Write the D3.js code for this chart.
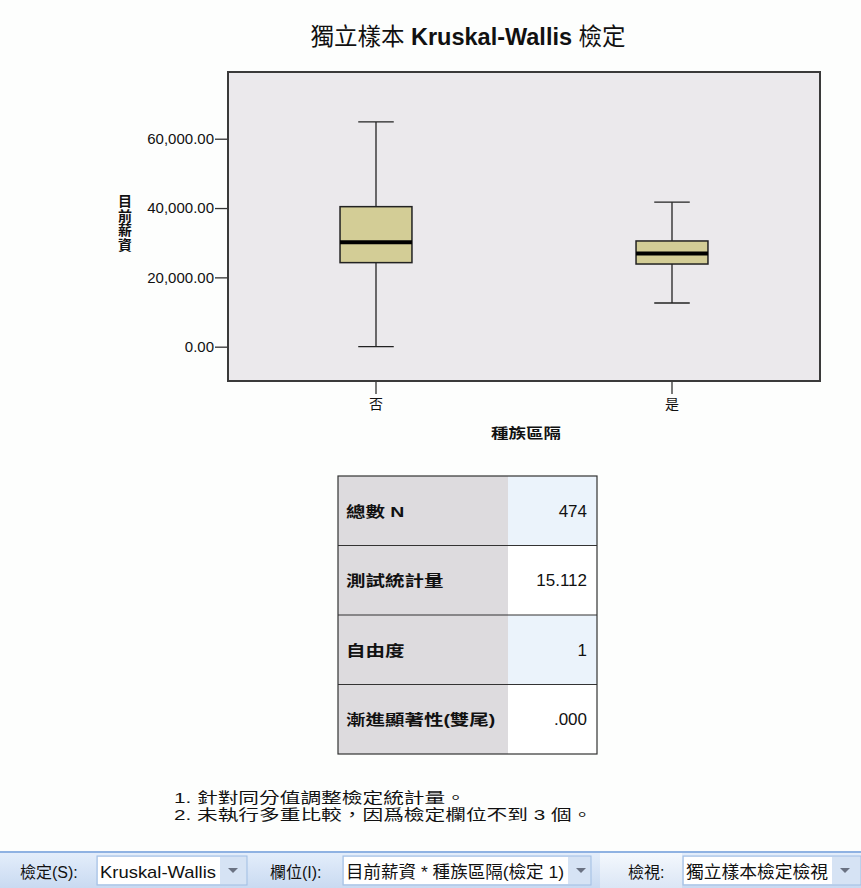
<!DOCTYPE html>
<html>
<head>
<meta charset="utf-8">
<script src="https://cdn.jsdelivr.net/npm/d3@7"></script>
<style>
  body { margin:0; background:#fdfefd; }
  svg { display:block; }
  text { font-family: "Liberation Sans", "Noto Sans CJK TC", sans-serif; fill:#111; }
</style>
</head>
<body>
<div id="chart"></div>
<script>
// data
var groups = ["否", "是"];
var whiskerLow = [0, 12600];
var q1 = [24250, 23850];
var median = [30150, 26850];
var q3 = [40400, 30500];
var whiskerHigh = [64850, 41700];
var yTicks = [0, 20000, 40000, 60000];

var statLabels = ["總數 N", "測試統計量", "自由度", "漸進顯著性(雙尾)"];
var statValues = ["474", "15.112", "1", ".000"];
var notes = ["1.  針對同分值調整檢定統計量。", "2.  未執行多重比較，因爲檢定欄位不到 3 個。"];

var W = 861, H = 888;
var svg = d3.select("#chart").append("svg").attr("width", W).attr("height", H);

// wide text: old windows font is wider than tall
function wideText(parent, x, y, sx) {
  return parent.append("g").attr("transform", "translate(" + x + "," + y + ") scale(" + sx + ",1)")
    .append("text");
}

// title
var title = svg.append("text").attr("x", 468).attr("y", 45).attr("text-anchor", "middle")
  .style("font-size", "23.5px");
title.append("tspan").text("獨立樣本 ");
title.append("tspan").style("font-weight", "bold").text("Kruskal-Wallis");
title.append("tspan").text(" 檢定");

var plot = {left:228, top:72, right:820, bottom:381};

var y = d3.scaleLinear().domain([-9900, 79250]).range([plot.bottom, plot.top]);
var x = d3.scaleBand().domain(groups).range([plot.left, plot.right]);

svg.append("rect").attr("x", plot.left).attr("y", plot.top)
  .attr("width", plot.right - plot.left).attr("height", plot.bottom - plot.top)
  .attr("fill", "#ebe9ec").attr("stroke", "#3a3a3a").attr("stroke-width", 2);

// y axis
var yAxis = d3.axisLeft(y).tickValues(yTicks).tickSize(12).tickPadding(1)
  .tickFormat(function(d){ return d3.format(",.2f")(d); });
var gy = svg.append("g").attr("transform", "translate(" + (plot.left - 1) + ",0)").call(yAxis);
gy.select(".domain").remove();
gy.selectAll("line").attr("stroke", "#333").attr("stroke-width", 1.3);
gy.selectAll("text").style("font-size", "15px").attr("fill", "#222");

// x axis
var xAxis = d3.axisBottom(x).tickSize(12).tickPadding(5);
var gx = svg.append("g").attr("transform", "translate(0," + (plot.bottom + 1) + ")").call(xAxis);
gx.select(".domain").remove();
gx.selectAll("line").attr("stroke", "#333").attr("stroke-width", 1.3);
gx.selectAll("text").style("font-size", "14px").attr("fill", "#222");

// axis titles
wideText(svg, 526, 438, 1.25).attr("text-anchor", "middle")
  .style("font-size", "14px").style("font-weight", "bold").text("種族區隔");
var yt = svg.append("text").attr("text-anchor", "middle").style("font-size", "14px").style("font-weight", "bold");
"目前薪資".split("").forEach(function(c, i){
  yt.append("tspan").attr("x", 125).attr("y", 206 + i * 14.5).text(c);
});

// boxes
var boxW = x.bandwidth() * 0.243, capW = x.bandwidth() * 0.12;
var bx = svg.append("g").selectAll("g").data(groups).enter().append("g");
bx.append("line")
  .attr("x1", function(d){ return x(d) + x.bandwidth()/2; })
  .attr("x2", function(d){ return x(d) + x.bandwidth()/2; })
  .attr("y1", function(d, i){ return y(whiskerLow[i]); })
  .attr("y2", function(d, i){ return y(whiskerHigh[i]); })
  .attr("stroke", "#222").attr("stroke-width", 1.3);
[whiskerLow, whiskerHigh].forEach(function(arr){
  bx.append("line")
    .attr("x1", function(d){ return x(d) + x.bandwidth()/2 - capW/2; })
    .attr("x2", function(d){ return x(d) + x.bandwidth()/2 + capW/2; })
    .attr("y1", function(d, i){ return y(arr[i]); })
    .attr("y2", function(d, i){ return y(arr[i]); })
    .attr("stroke", "#222").attr("stroke-width", 1.3);
});
bx.append("rect")
  .attr("x", function(d){ return x(d) + x.bandwidth()/2 - boxW/2; })
  .attr("width", boxW)
  .attr("y", function(d, i){ return y(q3[i]); })
  .attr("height", function(d, i){ return y(q1[i]) - y(q3[i]); })
  .attr("fill", "#d3cd96").attr("stroke", "#222").attr("stroke-width", 1.5);
bx.append("line")
  .attr("x1", function(d){ return x(d) + x.bandwidth()/2 - boxW/2; })
  .attr("x2", function(d){ return x(d) + x.bandwidth()/2 + boxW/2; })
  .attr("y1", function(d, i){ return y(median[i]); })
  .attr("y2", function(d, i){ return y(median[i]); })
  .attr("stroke", "#000").attr("stroke-width", 4);

// stats table
var tbl = {left:338, split:508, right:597, top:476, rowH:69.5};
var rows = svg.append("g").selectAll("g").data(statLabels).enter().append("g")
  .attr("transform", function(d, i){ return "translate(0," + (tbl.top + i * tbl.rowH) + ")"; });
rows.append("rect").attr("x", tbl.left).attr("width", tbl.split - tbl.left).attr("height", tbl.rowH)
  .attr("fill", "#dddbde");
rows.append("rect").attr("x", tbl.split).attr("width", tbl.right - tbl.split).attr("height", tbl.rowH)
  .attr("fill", function(d, i){ return i % 2 == 0 ? "#ebf3fb" : "#ffffff"; });
rows.each(function(d){
  wideText(d3.select(this), tbl.left + 8, tbl.rowH/2 + 6, 1.3)
    .style("font-size", "15px").style("font-weight", "bold").text(d);
});
rows.append("text").attr("x", tbl.right - 10).attr("y", tbl.rowH/2 + 6).attr("text-anchor", "end")
  .style("font-size", "17px").attr("fill", "#222").text(function(d, i){ return statValues[i]; });
rows.filter(function(d, i){ return i > 0; }).append("line")
  .attr("x1", tbl.left).attr("x2", tbl.right).attr("y1", 0).attr("y2", 0)
  .attr("stroke", "#333").attr("stroke-width", 1.2);
svg.append("rect").attr("x", tbl.left).attr("y", tbl.top)
  .attr("width", tbl.right - tbl.left).attr("height", tbl.rowH * statLabels.length)
  .attr("fill", "none").attr("stroke", "#333").attr("stroke-width", 1.2);

// footnotes
notes.forEach(function(n, i){
  wideText(svg, 174, 803 + i * 17, 1.38).style("font-size", "15px").attr("fill", "#222").text(n);
});

// bottom toolbar
var defs = svg.append("defs");
var grad = defs.append("linearGradient").attr("id", "tb").attr("x1", 0).attr("y1", 0).attr("x2", 0).attr("y2", 1);
grad.append("stop").attr("offset", 0).attr("stop-color", "#e4eefb");
grad.append("stop").attr("offset", 1).attr("stop-color", "#c9daf1");
var grad2 = defs.append("linearGradient").attr("id", "tb2").attr("x1", 0).attr("y1", 0).attr("x2", 0).attr("y2", 1);
grad2.append("stop").attr("offset", 0).attr("stop-color", "#f4f8fd");
grad2.append("stop").attr("offset", 1).attr("stop-color", "#dbe6f5");

var tb = svg.append("g");
tb.append("rect").attr("x", 0).attr("y", 852).attr("width", W).attr("height", 36).attr("fill", "url(#tb)");
tb.append("rect").attr("x", 600).attr("y", 853).attr("width", 82).attr("height", 35).attr("fill", "url(#tb2)");
tb.append("line").attr("x1", 0).attr("x2", W).attr("y1", 852).attr("y2", 852).attr("stroke", "#8fb2e2").attr("stroke-width", 2);

var combos = [
  {label:"檢定(S):", lx:20, bx:97, bw:150, wx:122, val:"Kruskal-Wallis"},
  {label:"欄位(I):", lx:270, bx:343, bw:248, wx:224, val:"目前薪資 * 種族區隔(檢定 1)"},
  {label:"檢視:", lx:628, bx:683, bw:178, wx:148, val:"獨立樣本檢定檢視"}
];
combos.forEach(function(c){
  tb.append("text").attr("x", c.lx).attr("y", 878).style("font-size", "16px").attr("fill", "#222").text(c.label);
  tb.append("rect").attr("x", c.bx).attr("y", 856).attr("width", c.bw).attr("height", 29)
    .attr("fill", "#d6e3f4").attr("stroke", "#9fbde3");
  tb.append("rect").attr("x", c.bx + 1).attr("y", 857).attr("width", c.wx).attr("height", 27).attr("fill", "#ffffff");
  tb.append("text").attr("x", c.bx + 3).attr("y", 878).style("font-size", "17px").attr("fill", "#111")
    .attr("textLength", c.wx - 6).attr("lengthAdjust", "spacingAndGlyphs").text(c.val);
  var ax = c.bx + c.wx + 14;
  tb.append("path").attr("d", "M" + (ax - 5) + ",868 L" + (ax + 5) + ",868 L" + ax + ",873 Z").attr("fill", "#6a7282");
});
</script>
</body>
</html>
